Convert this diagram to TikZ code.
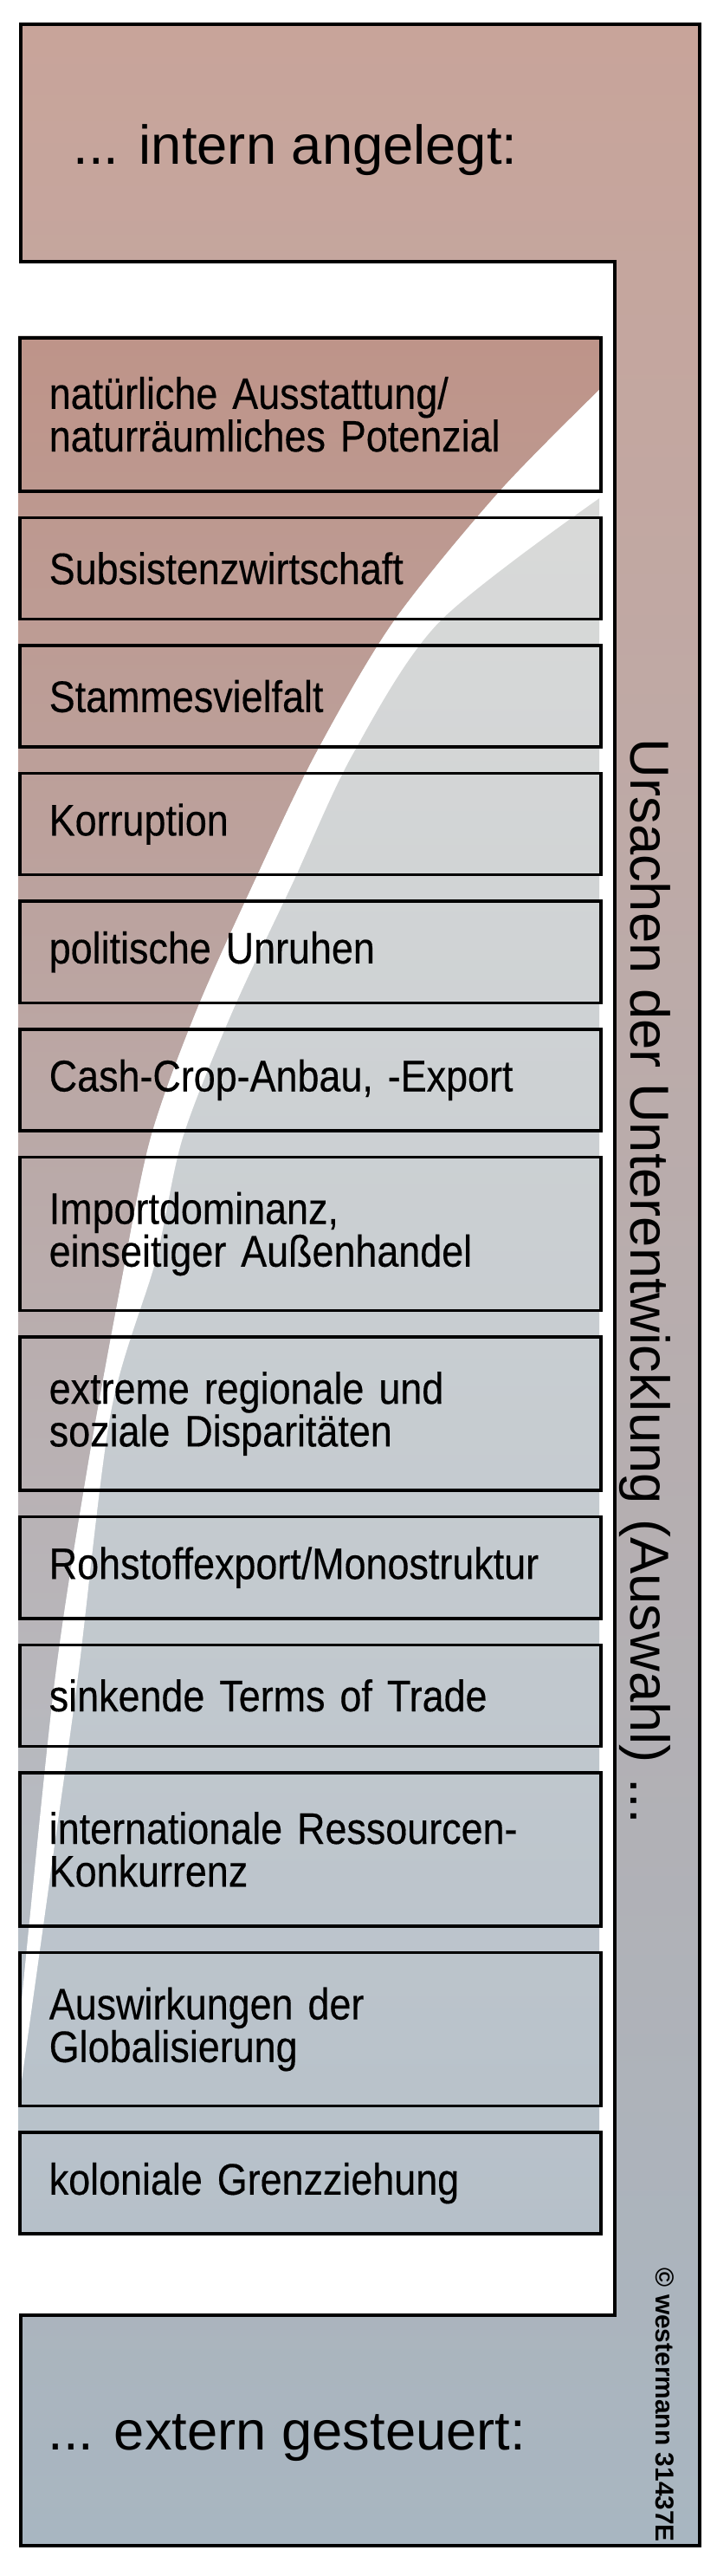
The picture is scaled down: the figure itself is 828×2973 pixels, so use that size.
\documentclass[tikz,border=0pt]{standalone}
\usepackage{fontspec}
\setmainfont{Liberation Sans}
\newfontfamily\causefont[FakeStretch=0.88, FakeBold=0.3]{Liberation Sans}
\newcommand\causetext{\causefont\fontsize{14.5}{14}\selectfont\spaceskip=0.2em\relax}
\usetikzlibrary{positioning}
\definecolor{internred}{RGB}{200,164,154}
\definecolor{bandgray}{RGB}{196,194,192}
\definecolor{externblue}{RGB}{168,182,193}
\definecolor{causered}{RGB}{190,148,137}
\definecolor{causegray}{RGB}{220,220,218}
\definecolor{causeblue}{RGB}{182,192,201}
\tikzstyle{frame} = [draw=black, line width=1pt]
\tikzstyle{cause} = [rectangle, draw=black, line width=1pt, minimum width=6.71cm, minimum height=1.17cm, text width=6.03cm, inner xsep=0.34cm, align=left, font=\causetext]
\tikzstyle{tallcause} = [cause, minimum height=1.77cm]
\tikzstyle{heading} = [anchor=base west, inner sep=0pt, font=\fontsize{18}{20}\selectfont]

\begin{document}
\begin{tikzpicture}[x=0.01cm, y=0.01cm]

    \useasboundingbox (0,0) rectangle (828,-2973);

    % frame: intern (top), side band, extern (bottom)
    \shade [top color=internred, middle color=bandgray, bottom color=externblue]
        (24,-28) -- (808,-28) -- (808,-2938) -- (24,-2938) -- (24,-2672)
        -- (710,-2672) -- (710,-302) -- (24,-302) -- cycle;
    \draw [frame]
        (24,-28) -- (808,-28) -- (808,-2938) -- (24,-2938) -- (24,-2672)
        -- (710,-2672) -- (710,-302) -- (24,-302) -- cycle;

    % background behind the causes
    \begin{scope}
        \clip (21,-388) rectangle (692,-2577);
        \shade [top color=causegray, bottom color=causeblue] (21,-388) rectangle (692,-2577);
        \shade [top color=causered, middle color=causeblue!70!causered, bottom color=causeblue]
            (21,-388) -- (692,-388) -- plot [smooth] coordinates {(692,-450) (576,-568) (454,-718)
            (364,-871) (293,-1019) (227,-1166) (174,-1313) (140,-1480) (100,-1700) (62,-1950)
            (21,-2350)} -- cycle;
        \fill [white] plot [smooth] coordinates {(692,-450) (576,-568) (454,-718)
            (364,-871) (293,-1019) (227,-1166) (174,-1313) (140,-1480) (100,-1700) (62,-1950)
            (21,-2350)}
            -- plot [smooth] coordinates {(21,-2430) (58,-2165) (90,-1935) (128,-1630)
            (180,-1454) (211,-1313) (269,-1166) (338,-1019) (407,-871) (507,-718) (692,-575)}
            -- cycle;
    \end{scope}

    \node (intern) [heading] at (84,-190) {... intern angelegt:};
    \node (extern) [heading] at (55,-2827) {... extern gesteuert:};

    \node (natur) [tallcause, anchor=north west] at (21,-388) {natürliche Ausstattung/\\naturräumliches Potenzial};
    \node (subsistenz) [cause, below=0.27cm of natur] {Subsistenzwirtschaft};
    \node (stamm) [cause, below=0.27cm of subsistenz] {Stammesvielfalt};
    \node (korruption) [cause, below=0.27cm of stamm] {Korruption};
    \node (unruhen) [cause, below=0.27cm of korruption] {politische Unruhen};
    \node (cashcrop) [cause, below=0.27cm of unruhen] {Cash-Crop-Anbau, -Export};
    \node (import) [tallcause, below=0.27cm of cashcrop] {Importdominanz,\\einseitiger Außenhandel};
    \node (disparitaet) [tallcause, below=0.27cm of import] {extreme regionale und\\soziale Disparitäten};
    \node (rohstoff) [cause, below=0.27cm of disparitaet] {Rohstoffexport/Monostruktur};
    \node (terms) [cause, below=0.27cm of rohstoff] {sinkende Terms of Trade};
    \node (ressourcen) [tallcause, below=0.27cm of terms] {internationale Ressourcen-\\Konkurrenz};
    \node (global) [tallcause, below=0.27cm of ressourcen] {Auswirkungen der\\Globalisierung};
    \node (kolonial) [cause, below=0.27cm of global] {koloniale Grenzziehung};

    \node (ursachen) [rotate=-90, anchor=base west, inner sep=0pt, font=\fontsize{18}{20}\selectfont]
        at (728,-852) {Ursachen der Unterentwicklung (Auswahl) ...};
    \node (copyright) [rotate=-90, anchor=base west, inner sep=0pt, font=\fontsize{8.5}{9}\selectfont\bfseries]
        at (757,-2617) {© westermann 31437E};

\end{tikzpicture}
\end{document}
